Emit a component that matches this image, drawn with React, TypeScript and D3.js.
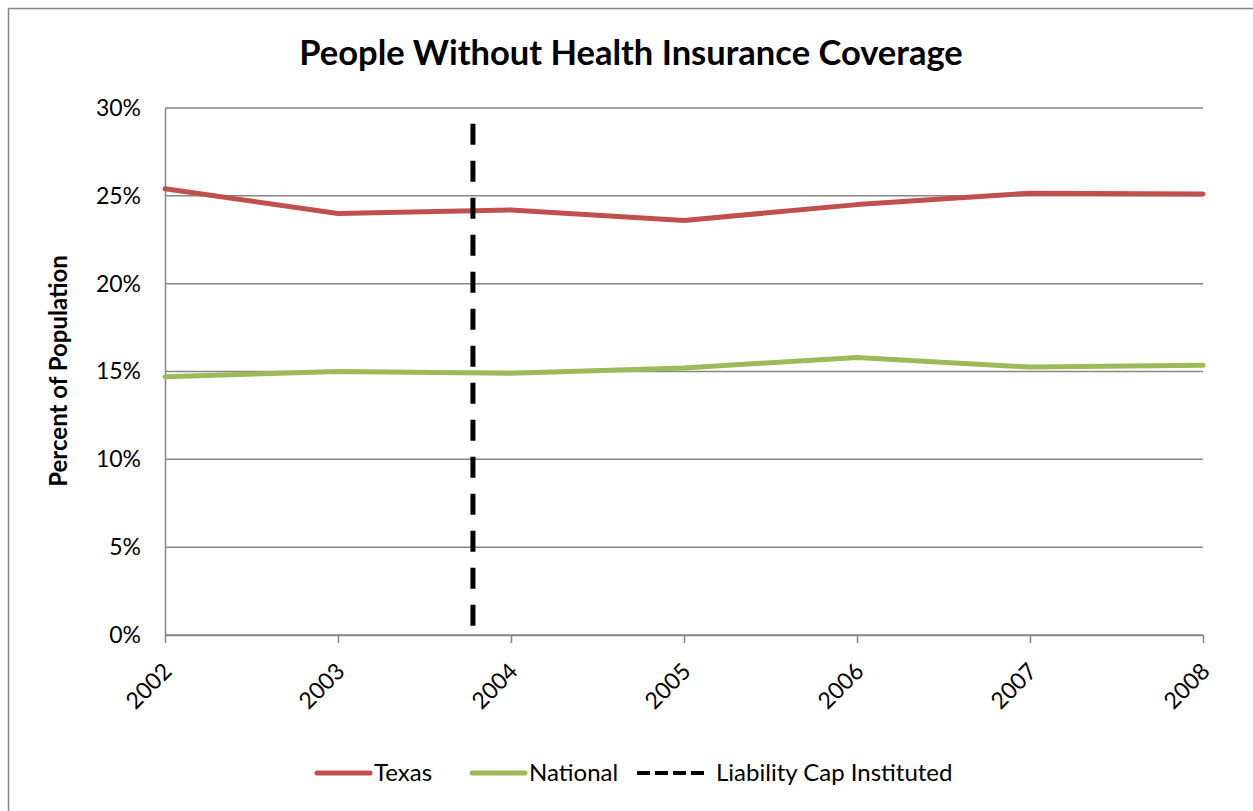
import React, { useEffect, useRef } from "react";
import * as d3 from "d3";

const years = [2002, 2003, 2004, 2005, 2006, 2007, 2008];
const texas = [25.4, 24.0, 24.2, 23.6, 24.5, 25.15, 25.1];
const national = [14.7, 15.0, 14.9, 15.2, 15.8, 15.25, 15.35];
const capYear = 2003.78;
const capRange = [0, 29.1];
const yTicks = [0, 5, 10, 15, 20, 25, 30];

const RED = "#C0504D";
const GREEN = "#9BBB59";
const GRID = "#868686";
const FONT = "Lato, 'Open Sans', sans-serif";

const App: React.FC = () => {
  const svgRef = useRef<SVGSVGElement>(null);

  useEffect(() => {
    if (!svgRef.current) return;
    const svg = d3.select(svgRef.current);
    svg.selectAll("*").remove();

    const margin = { top: 108, right: 50, bottom: 176, left: 165 };
    const W = 1253;
    const H = 811;
    const width = W - margin.left - margin.right;
    const height = H - margin.top - margin.bottom;

    // outer frame
    svg
      .append("rect")
      .attr("x", 8.5)
      .attr("y", 8.5)
      .attr("width", W + 20)
      .attr("height", H + 20)
      .attr("fill", "white")
      .attr("stroke", GRID)
      .attr("stroke-width", 1.5);

    svg
      .append("text")
      .attr("x", 631)
      .attr("y", 65)
      .attr("text-anchor", "middle")
      .attr("font-family", FONT)
      .attr("font-weight", "bold")
      .attr("font-size", 34.5)
      .text("People Without Health Insurance Coverage");

    const g = svg
      .append("g")
      .attr("transform", `translate(${margin.left},${margin.top})`);

    const x = d3
      .scaleLinear()
      .domain([d3.min(years)!, d3.max(years)!])
      .range([0, width]);
    const y = d3.scaleLinear().domain([0, 30]).range([height, 0]);

    // gridlines
    g.append("g")
      .selectAll("line")
      .data(yTicks)
      .enter()
      .append("line")
      .attr("x1", 0)
      .attr("x2", width)
      .attr("y1", (d) => y(d))
      .attr("y2", (d) => y(d))
      .attr("stroke", GRID)
      .attr("stroke-width", 1.5);

    // y axis
    const yAxis = g
      .append("g")
      .call(
        d3
          .axisLeft(y)
          .tickValues(yTicks)
          .tickSize(0)
          .tickPadding(24)
          .tickFormat((d) => `${d}%`)
      );
    yAxis.select(".domain").attr("stroke", GRID).attr("stroke-width", 1.5);
    yAxis
      .selectAll("text")
      .attr("font-family", FONT)
      .attr("font-size", 23)
      .attr("fill", "#000");

    // x axis
    const xAxis = g
      .append("g")
      .attr("transform", `translate(0,${height})`)
      .call(
        d3
          .axisBottom(x)
          .tickValues(years)
          .tickSize(8)
          .tickSizeOuter(0)
          .tickFormat((d) => String(d))
      );
    xAxis.select(".domain").attr("stroke", GRID).attr("stroke-width", 1.5);
    xAxis.selectAll(".tick line").attr("stroke", GRID).attr("stroke-width", 1.5);
    xAxis
      .selectAll("text")
      .attr("font-family", FONT)
      .attr("font-size", 23)
      .attr("fill", "#000")
      .attr("text-anchor", "end")
      .attr("dy", "0.35em")
      .attr("transform", "translate(2,32) rotate(-45)")
      .attr("y", 0)
      .attr("x", 0);

    // y title
    svg
      .append("text")
      .attr("transform", `translate(67,371) rotate(-90)`)
      .attr("text-anchor", "middle")
      .attr("font-family", FONT)
      .attr("font-weight", "bold")
      .attr("font-size", 24)
      .text("Percent of Population");

    const line = d3
      .line<number>()
      .x((_, i) => x(years[i]))
      .y((d) => y(d));

    g.append("path")
      .datum(texas)
      .attr("d", line)
      .attr("fill", "none")
      .attr("stroke", RED)
      .attr("stroke-width", 5)
      .attr("stroke-linecap", "round")
      .attr("stroke-linejoin", "round");

    g.append("path")
      .datum(national)
      .attr("d", line)
      .attr("fill", "none")
      .attr("stroke", GREEN)
      .attr("stroke-width", 5)
      .attr("stroke-linecap", "round")
      .attr("stroke-linejoin", "round");

    g.append("line")
      .attr("x1", x(capYear))
      .attr("x2", x(capYear))
      .attr("y1", y(capRange[1]))
      .attr("y2", y(capRange[0]))
      .attr("stroke", "#000")
      .attr("stroke-width", 5)
      .attr("stroke-dasharray", "21 16");

    // legend
    const legend = svg.append("g").attr("font-family", FONT).attr("font-size", 24);
    const items = [
      { label: "Texas", color: RED, x1: 317, x2: 370, tx: 374, dash: null },
      { label: "National", color: GREEN, x1: 472, x2: 525, tx: 529, dash: null },
      { label: "Liability Cap Instituted", color: "#000", x1: 637, x2: 704, tx: 716, dash: "13 5" },
    ];
    items.forEach((it) => {
      const ln = legend
        .append("line")
        .attr("x1", it.x1)
        .attr("x2", it.x2)
        .attr("y1", 773)
        .attr("y2", 773)
        .attr("stroke", it.color)
        .attr("stroke-width", it.dash ? 4 : 5)
        .attr("stroke-linecap", it.dash ? "butt" : "round");
      if (it.dash) ln.attr("stroke-dasharray", it.dash);
      legend
        .append("text")
        .attr("x", it.tx)
        .attr("y", 773)
        .attr("dy", "0.35em")
        .text(it.label);
    });
  }, []);

  return (
    <svg
      ref={svgRef}
      width={1253}
      height={811}
      style={{ position: "absolute", left: 0, top: 0, background: "white" }}
    />
  );
};

export default App;
